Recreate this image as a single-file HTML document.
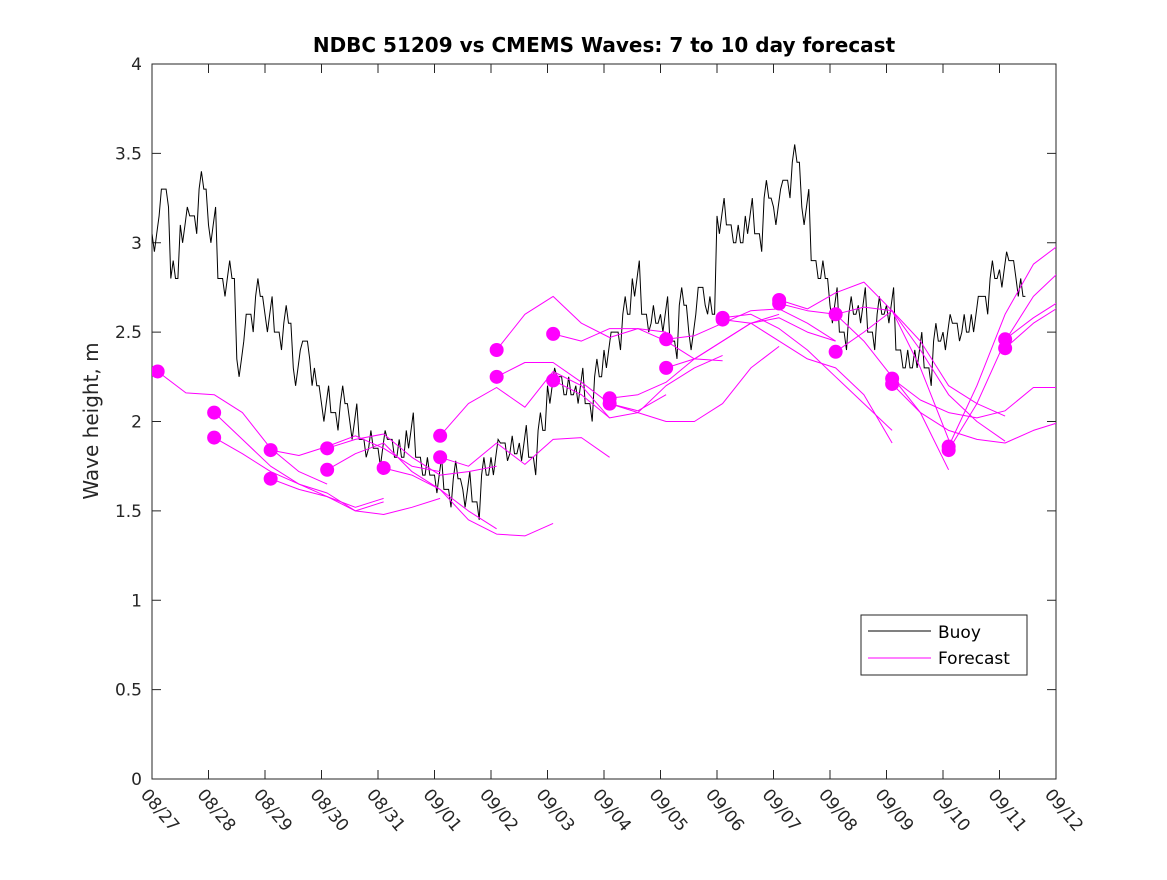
<!DOCTYPE html>
<html><head><meta charset="utf-8"><style>
body{margin:0;background:#fff;}
svg{font-family:"DejaVu Sans","Liberation Sans",sans-serif;}
</style></head><body>
<svg id="chart" width="1167" height="875" xmlns="http://www.w3.org/2000/svg">
<defs><clipPath id="pc"><rect x="152" y="64" width="904" height="715"/></clipPath></defs>
<rect x="0" y="0" width="1167" height="875" fill="#fff"/>
<text x="604" y="52" text-anchor="middle" font-size="20" font-weight="bold" fill="#000">NDBC 51209 vs CMEMS Waves: 7 to 10 day forecast</text>
<text transform="translate(98,421) rotate(-90)" text-anchor="middle" font-size="20" fill="#262626">Wave height, m</text>
<g id="axes"></g>
<g id="series" clip-path="url(#pc)"></g>
<g>
<rect x="861" y="615" width="166" height="60" fill="#fff" stroke="#262626" stroke-width="1"/>
<line x1="868" y1="631" x2="931" y2="631" stroke="#000" stroke-width="1"/>
<text x="938" y="638" font-size="17" fill="#000">Buoy</text>
<line x1="868" y1="658" x2="931" y2="658" stroke="#f0f" stroke-width="1"/>
<text x="938" y="664" font-size="17" fill="#000">Forecast</text>
</g>
</svg>
<script>
const xTickLabels=["08/27","08/28","08/29","08/30","08/31","09/01","09/02","09/03","09/04","09/05","09/06","09/07","09/08","09/09","09/10","09/11","09/12"];
const yTicks=[0,0.5,1,1.5,2,2.5,3,3.5,4];
const yTickLabels=["0","0.5","1","1.5","2","2.5","3","3.5","4"];
// buoy: 6 samples per day starting 08/27
const buoy=[3.05,3.3,2.8,3.1,3.15,3.3, 3.1,2.8,2.8,2.35,2.6,2.7, 2.6,2.5,2.55,2.3,2.45,2.2, 2.1,2.05,2.1,2.0,1.9,1.85,
 1.85,1.9,1.8,1.95,1.8,1.7, 1.7,1.62,1.68,1.62,1.55,1.7, 1.8,1.88,1.82,1.88,1.8,1.95, 2.2,2.25,2.15,2.2,2.1,2.25,
 2.4,2.5,2.6,2.8,2.6,2.55, 2.6,2.45,2.65,2.5,2.75,2.6, 3.15,3.1,3.0,3.15,3.05,3.25, 3.2,3.35,3.45,3.2,2.9,2.8,
 2.65,2.5,2.6,2.65,2.5,2.6, 2.65,2.4,2.3,2.4,2.3,2.45, 2.5,2.55,2.5,2.6,2.7,2.8, 2.85,2.9,2.7];
const buoyNoise=[0.1,-0.1,0,0.1,-0.1,0];
// forecasts: start day and values every 0.5 day
const fcStart=[0.1,1.1,1.1,2.1,2.1,3.1,3.1,4.1,5.1,5.1,6.1,6.1,7.1,7.1,8.1,8.1,9.1,9.1,10.1,10.1,11.1,11.1,12.1,12.1,13.1,13.1,14.1,14.1,15.1,15.1];
const fcValues=[
[2.28,2.16,2.15,2.05,1.85,1.72,1.65],
[2.05,1.90,1.75,1.65,1.58,1.52,1.57],
[1.91,1.82,1.72,1.65,1.60,1.50,1.55],
[1.84,1.81,1.86,1.92,1.85,1.75,1.72],
[1.68,1.62,1.58,1.50,1.48,1.52,1.57],
[1.85,1.90,1.93,1.80,1.70,1.72,1.75],
[1.73,1.82,1.88,1.72,1.62,1.50,1.40],
[1.74,1.70,1.62,1.45,1.37,1.36,1.43],
[1.92,2.10,2.19,2.08,2.28,2.20,2.02],
[1.80,1.75,1.88,1.76,1.90,1.91,1.80],
[2.40,2.60,2.70,2.55,2.47,2.52,2.50],
[2.25,2.33,2.33,2.22,2.10,2.06,2.15],
[2.49,2.45,2.52,2.52,2.45,2.35,2.34],
[2.23,2.15,2.02,2.05,2.20,2.30,2.37],
[2.13,2.15,2.22,2.35,2.45,2.55,2.60],
[2.10,2.05,2.00,2.00,2.10,2.30,2.42],
[2.46,2.48,2.55,2.62,2.63,2.55,2.45],
[2.30,2.35,2.45,2.55,2.58,2.50,2.45],
[2.58,2.60,2.52,2.40,2.25,2.10,1.95],
[2.57,2.55,2.45,2.35,2.30,2.15,1.88],
[2.68,2.63,2.72,2.78,2.62,2.30,1.90],
[2.66,2.62,2.60,2.45,2.25,2.05,1.73],
[2.60,2.64,2.62,2.40,2.15,2.00,1.89],
[2.39,2.50,2.62,2.45,2.20,2.10,2.03],
[2.24,2.12,2.05,2.02,2.06,2.19,2.19],
[2.21,2.05,1.95,1.90,1.88,1.95,2.00],
[1.86,2.20,2.60,2.88,3.00,3.00,3.00],
[1.84,2.10,2.45,2.70,2.85,2.88,2.80],
[2.46,2.58,2.68,2.62,2.50,2.40,2.35],
[2.41,2.55,2.65,2.55,2.40,2.30,2.25]];

const X0=152,X1=1056,Y0=779,Y1=64;
const xs=d=>X0+(X1-X0)*d/16;
const ys=v=>Y0-(Y0-Y1)*v/4;
const NS="http://www.w3.org/2000/svg";
function mk(t,a,p){const e=document.createElementNS(NS,t);for(const k in a)e.setAttribute(k,a[k]);p.appendChild(e);return e;}
const axes=document.getElementById('axes'),ser=document.getElementById('series');
const frame=mk('rect',{x:X0,y:Y1,width:X1-X0,height:Y0-Y1,fill:'none',stroke:'#262626','stroke-width':1},axes);


xTickLabels.forEach((l,i)=>{const x=xs(i);
 const t1=mk('line',{x1:x,y1:Y0,x2:x,y2:Y0-9,stroke:'#262626'},axes);
 
 
 const t2=mk('line',{x1:x,y1:Y1,x2:x,y2:Y1+9,stroke:'#262626'},axes);
 
 
 const tx=mk('text',{transform:`translate(${x-12},${795}) rotate(50)`,'font-size':17,fill:'#262626'},axes);
 tx.textContent=l;
 
 
});
yTicks.forEach((v,i)=>{const y=ys(v);
 const t1=mk('line',{x1:X0,y1:y,x2:X0+9,y2:y,stroke:'#262626'},axes);
 
 
 const t2=mk('line',{x1:X1,y1:y,x2:X1-9,y2:y,stroke:'#262626'},axes);
 
 
 const tx=mk('text',{x:X0-10,y:y+6,'text-anchor':'end','font-size':17,fill:'#262626'},axes);
 tx.textContent=yTickLabels[i];
 
 
});
let pts=[];
buoy.forEach((v,i)=>{for(let h=0;h<4;h++){const d=(i*4+h)/24;const n=(h%2?buoyNoise[(i+h)%buoyNoise.length]:0);pts.push(xs(d).toFixed(1)+','+ys(v+n).toFixed(1));}});
const bl=mk('polyline',{points:pts.join(' '),fill:'none',stroke:'#000','stroke-width':1},ser);


fcValues.forEach((vals,k)=>{const s=fcStart[k];
 const p=vals.map((v,j)=>xs(s+j*0.5).toFixed(1)+','+ys(v).toFixed(1)).join(' ');
 const l=mk('polyline',{points:p,fill:'none',stroke:'#f0f','stroke-width':1,'stroke-linejoin':'round'},ser);
 
 
});
fcValues.forEach((vals,k)=>{
 const c=mk('circle',{cx:xs(fcStart[k]),cy:ys(vals[0]),r:7,fill:'#f0f'},ser);
 
 
});
</script>
</body></html>
